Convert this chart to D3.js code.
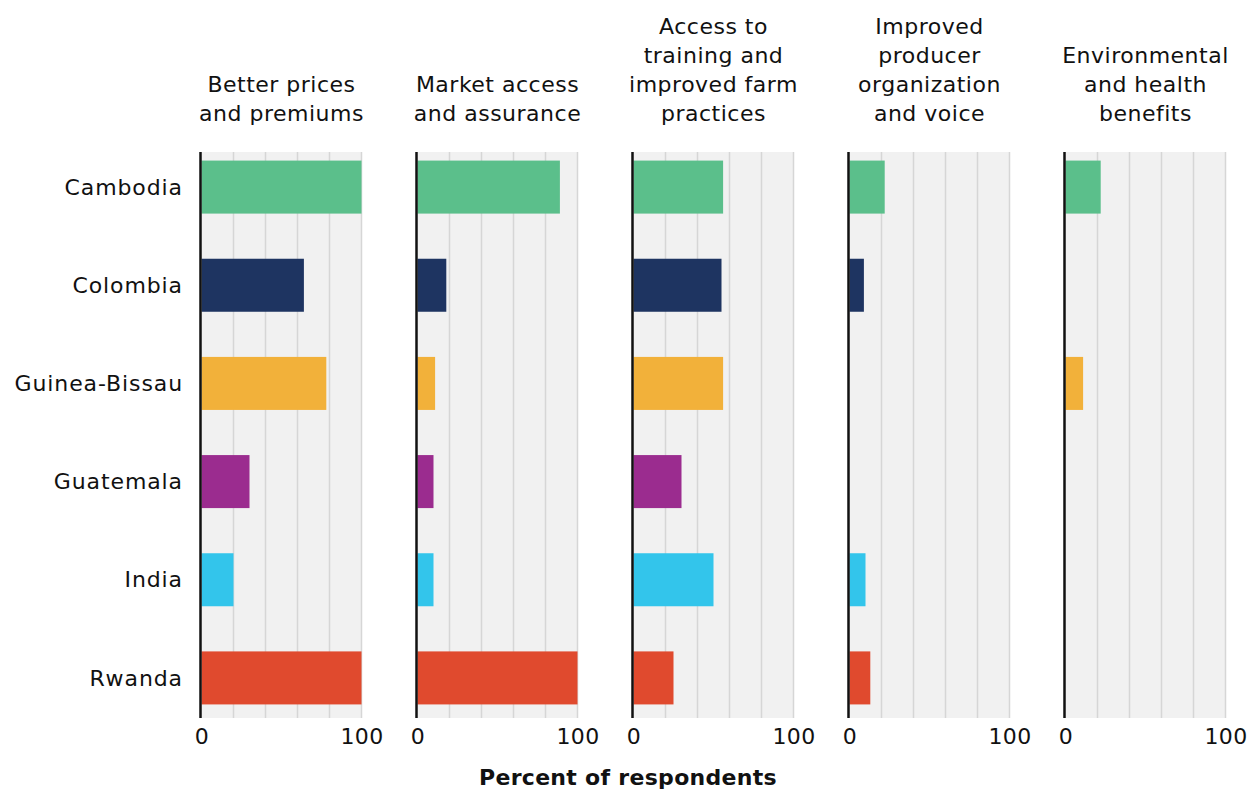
<!DOCTYPE html>
<html>
<head>
<meta charset="utf-8">
<script src="https://cdn.jsdelivr.net/npm/d3@7"></script>
<style>
  body { margin: 0; background: #fff; }
  text { font-family: "DejaVu Sans", sans-serif; fill: #111; }
</style>
</head>
<body>
<svg id="chart" width="1250" height="792"></svg>
<script>
// data
const countries = ["Cambodia", "Colombia", "Guinea-Bissau", "Guatemala", "India", "Rwanda"];
const colors = ["#5bbf8b", "#1e3461", "#f2b13a", "#9b2c8f", "#33c5eb", "#e04a2e"];
const panelTitles = [
    ["Better prices", "and premiums"],
    ["Market access", "and assurance"],
    ["Access to", "training and", "improved farm", "practices"],
    ["Improved", "producer", "organization", "and voice"],
    ["Environmental", "and health", "benefits"]
];
const betterPrices = [100, 64, 78, 30, 20, 100];
const marketAccess = [89, 18, 11, 10, 10, 100];
const training = [56, 55, 56, 30, 50, 25];
const organization = [22, 9, 0, 0, 10, 13];
const environmental = [22, 0, 11, 0, 0, 0];
const panelValues = [betterPrices, marketAccess, training, organization, environmental];
const tickValues = [0, 100];
const gridValues = [20, 40, 60, 80, 100];

const svg = d3.select("#chart");

// left edge of each small panel
const panelX = d3.scaleLinear()
    .domain([0, panelValues.length - 1])
    .range([201.5, 1065.5]);
const panelWidth = 160;

const y = d3.scaleBand()
    .domain(countries)
    .range([138, 727])
    .paddingInner(0.46)
    .paddingOuter(0.23);

const plotTop = 152, plotBottom = 718;

// country labels
svg.append("g").selectAll("text")
    .data(countries)
    .join("text")
    .attr("x", 183)
    .attr("y", d => y(d) + y.bandwidth() / 2)
    .attr("dy", "0.35em")
    .attr("text-anchor", "end")
    .attr("font-size", 22)
    .attr("letter-spacing", 0.9)
    .text(d => d);

panelValues.forEach((vals, i) => {
    const x0 = panelX(i);
    const x = d3.scaleLinear().domain([0, 100]).range([x0, x0 + panelWidth]);
    const g = svg.append("g");

    g.append("rect")
        .attr("x", x(0))
        .attr("y", plotTop)
        .attr("width", x(100) - x(0))
        .attr("height", plotBottom - plotTop)
        .attr("fill", "#f1f1f1");

    g.selectAll(".grid")
        .data(gridValues)
        .join("line")
        .attr("x1", d => x(d)).attr("x2", d => x(d))
        .attr("y1", plotTop).attr("y2", plotBottom)
        .attr("stroke", "#d6d6d6")
        .attr("stroke-width", 1.5);

    g.selectAll(".bar")
        .data(countries.map((c, j) => ({c, v: vals[j], col: colors[j]})).filter(d => d.v > 0))
        .join("rect")
        .attr("x", x(0))
        .attr("y", d => y(d.c))
        .attr("width", d => x(d.v) - x(0))
        .attr("height", y.bandwidth())
        .attr("fill", d => d.col);

    g.append("line")
        .attr("x1", x(0) - 1).attr("x2", x(0) - 1)
        .attr("y1", plotTop).attr("y2", plotBottom)
        .attr("stroke", "#111")
        .attr("stroke-width", 2.5);

    const axis = g.append("g")
        .attr("transform", `translate(0,${plotBottom})`)
        .call(d3.axisBottom(x).tickValues(tickValues).tickSize(0).tickPadding(10));
    axis.select(".domain").remove();
    axis.selectAll("text")
        .attr("font-size", 22)
        .attr("font-family", "DejaVu Sans, sans-serif")
        .attr("letter-spacing", 0.4)
        .attr("fill", "#111");

    const title = panelTitles[i];
    g.append("text")
        .attr("text-anchor", "middle")
        .attr("font-size", 22)
        .attr("letter-spacing", 0.5)
        .selectAll("tspan")
        .data(title)
        .join("tspan")
        .attr("x", (x(0) + x(100)) / 2)
        .attr("y", (d, k) => 121 - (title.length - 1 - k) * 29)
        .text(d => d);
});

svg.append("text")
    .attr("x", 628)
    .attr("y", 785)
    .attr("text-anchor", "middle")
    .attr("font-size", 22)
    .attr("letter-spacing", 0.3)
    .attr("font-weight", "bold")
    .text("Percent of respondents");
</script>
</body>
</html>
